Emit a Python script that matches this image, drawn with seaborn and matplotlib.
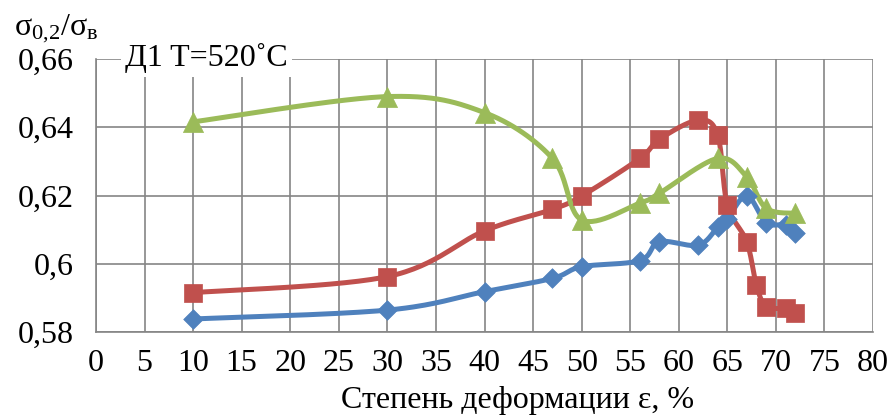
import numpy as np
import pandas as pd
import matplotlib
matplotlib.use("Agg")
import matplotlib.pyplot as plt
import seaborn as sns

# Degree of deformation, %
eps_blue = [10, 30, 40, 47, 50, 56, 58, 62, 64, 65, 67, 69, 71, 72]
ratio_blue = [0.5839, 0.5865, 0.5919, 0.5958, 0.5992, 0.6010, 0.6065, 0.6055,
              0.6107, 0.6132, 0.6200, 0.6121, 0.6114, 0.6090]

eps_red = [10, 30, 40, 47, 50, 56, 58, 62, 64, 65, 67, 68, 69, 71, 72]
ratio_red = [0.5916, 0.5963, 0.6097, 0.6160, 0.6199, 0.6309, 0.6365, 0.6421,
             0.6378, 0.6173, 0.6065, 0.5938, 0.5875, 0.5870, 0.5856]

eps_green = [10, 30, 40, 47, 50, 56, 58, 64, 67, 69, 72]
ratio_green = [0.6416, 0.6490, 0.6443, 0.6309, 0.6129, 0.6178, 0.6207, 0.6309,
               0.6255, 0.6163, 0.6148]

x_ticks = [0, 5, 10, 15, 20, 25, 30, 35, 40, 45, 50, 55, 60, 65, 70, 75, 80]
y_ticks = [0.58, 0.60, 0.62, 0.64, 0.66]
y_tick_labels = ["0,58", "0,6", "0,62", "0,64", "0,66"]

title_text = "Д1 T=520˚C"
x_label = "Степень деформации ε, %"
y_label = r"$\mathrm{σ}_{\mathrm{0{,}2}}/\mathrm{σ}_{\mathrm{в}}$"

series = [
    ("blue", eps_blue, ratio_blue, "#4F81BD", "D", 100),
    ("red", eps_red, ratio_red, "#C0504D", "s", 170),
    ("green", eps_green, ratio_green, "#9BBB59", "^", 210),
]


def smooth(xs, ys, steps=30):
    """Catmull-Rom style Bezier smoothing through every point."""
    p = np.column_stack([xs, ys]).astype(float)
    n = len(p)
    out = [p[0]]
    t = np.linspace(0, 1, steps + 1)[1:][:, None]
    for i in range(n - 1):
        p0 = p[i - 1] if i > 0 else p[i]
        p1, p2 = p[i], p[i + 1]
        p3 = p[i + 2] if i + 2 < n else p[i + 1]
        c1 = p1 + (p2 - p0) / 6.0
        c2 = p2 - (p3 - p1) / 6.0
        seg = ((1 - t) ** 3) * p1 + 3 * ((1 - t) ** 2) * t * c1 \
            + 3 * (1 - t) * t ** 2 * c2 + t ** 3 * p2
        out.extend(seg)
    out = np.array(out)
    return out[:, 0], out[:, 1]


sns.set_theme(style="white")
plt.rcParams["font.family"] = ["Liberation Serif", "DejaVu Serif"]
plt.rcParams["mathtext.fontset"] = "custom"
plt.rcParams["mathtext.rm"] = "Liberation Serif"
plt.rcParams["mathtext.it"] = "Liberation Serif:italic"
plt.rcParams["mathtext.bf"] = "Liberation Serif:bold"

W, H = 894, 418
fig = plt.figure(figsize=(W / 100, H / 100), dpi=100)
x0, x1, ytop, ybot = 96, 873, 59, 332.3
ax = fig.add_axes([x0 / W, 1 - ybot / H, (x1 - x0) / W, (ybot - ytop) / H])

grid_c = "#858585"
for name, xs, ys, color, marker, size in series:
    sx, sy = smooth(xs, ys)
    curve = pd.DataFrame({"eps": sx, "ratio": sy})
    pts = pd.DataFrame({"eps": xs, "ratio": ys})
    sns.lineplot(data=curve, x="eps", y="ratio", sort=False, estimator=None,
                 color=color, linewidth=3.6, ax=ax, zorder=3)
    sns.scatterplot(data=pts, x="eps", y="ratio", marker=marker, s=size,
                    color=color, edgecolor=color, linewidth=0.5, ax=ax,
                    zorder=4)

ax.set_xlim(0, 80)
ax.set_ylim(0.58, 0.66)
ax.set_xticks(x_ticks)
ax.set_xticklabels([str(v) for v in x_ticks])
ax.set_yticks(y_ticks)
ax.set_yticklabels(y_tick_labels)
ax.grid(True, color=grid_c, linewidth=1.2)
ax.set_axisbelow(True)
for side in ("top", "right"):
    ax.spines[side].set_visible(False)
for side in ("left", "bottom"):
    ax.spines[side].set_color(grid_c)
    ax.spines[side].set_linewidth(1.2)
ax.tick_params(axis="both", which="major", direction="out", length=7,
               width=1.2, color=grid_c, labelsize=23, labelcolor="black")
ax.tick_params(axis="x", pad=5)
ax.tick_params(axis="y", pad=9)
ax.set_xlabel("")
ax.set_ylabel("")

fig.text(518 / W, 1 - 408 / H, x_label, ha="center", va="baseline",
         fontsize=23, color="black")
fig.text(14 / W, 1 - 35 / H, y_label, ha="left", va="baseline",
         fontsize=23, color="black")
fig.text(125 / W, 1 - 66 / H, title_text, ha="left", va="baseline",
         fontsize=23, color="black",
         bbox=dict(facecolor="white", edgecolor="none", pad=3))

fig.savefig("out.png", dpi=100)
